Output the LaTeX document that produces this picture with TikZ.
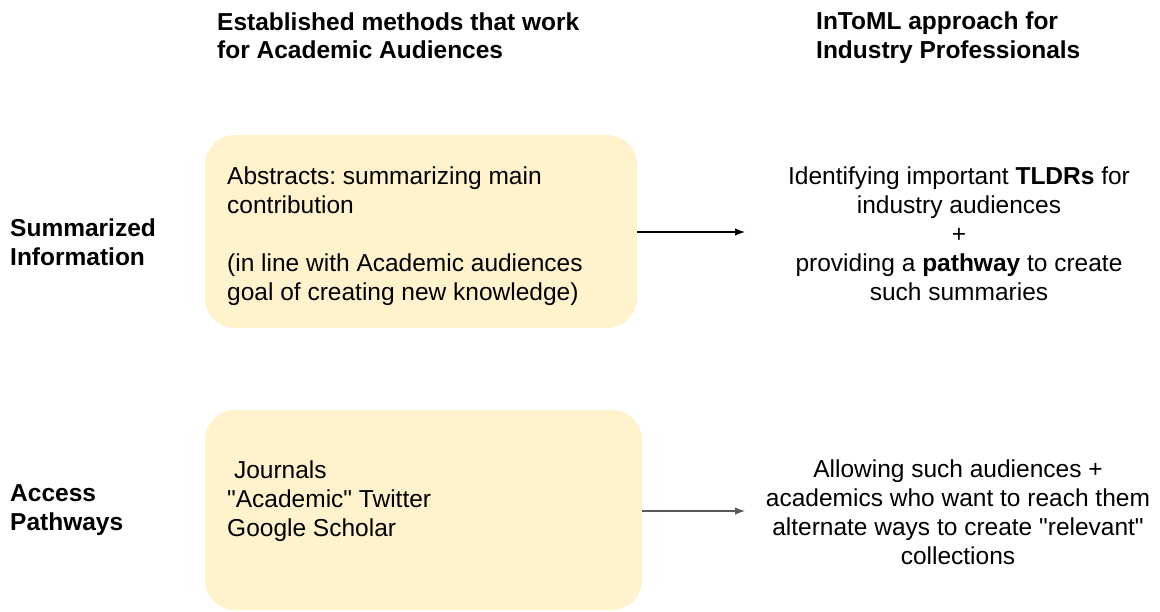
\documentclass[tikz,border=0pt]{standalone}
\usepackage{fontspec}
\setmainfont{Liberation Sans}
\newfontfamily\plainfont{Liberation Sans}
\newcommand{\dq}{{\plainfont"}}
\frenchspacing
\usetikzlibrary{arrows.meta}
\definecolor{boxfill}{HTML}{FFF2CC}
\definecolor{arrowgrey}{HTML}{595959}
\tikzset{
  txt/.style={inner sep=0pt, text=black},
  hdr/.style={txt, font=\fontsize{24.5}{28.5}\selectfont\bfseries, align=left, anchor=west},
  rowlbl/.style={txt, font=\fontsize{24.5}{29}\selectfont\bfseries, align=left, anchor=west},
  boxtxt/.style={txt, font=\fontsize{24.5}{29}\selectfont, align=left, anchor=west},
  righttxt/.style={txt, font=\fontsize{24.5}{29}\selectfont, align=center},
  panel/.style={fill=boxfill, draw=none, rounded corners=30pt},
  conn/.style={line width=1.3pt, -{Latex[length=10pt,width=7.5pt]}},
}
\begin{document}
\frenchspacing
\begin{tikzpicture}[x=1pt,y=-1pt]
\useasboundingbox (0,0) rectangle (1160,611);
% headings
\node[hdr] (h1) at (217,35.5) {Established methods that work\\for Academic Audiences};
\node[hdr] (h2) at (816,37.5) {InToML approach for\\Industry Professionals};
% row labels
\node[rowlbl] (l1) at (10,242.5) {Summarized\\Information};
\node[rowlbl] (l2) at (10,510) {Access\\Pathways};
% boxes
\draw[panel] (205,135) rectangle (637,328);
\draw[panel] (205,410) rectangle (642,610);
\coordinate (b1) at (637,232);
\coordinate (b2) at (642,511);
\coordinate (e1) at (745,232);
\coordinate (e2) at (745,511);
\node[boxtxt] (t1) at (227,236) {Abstracts: summarizing main\\contribution\\[29pt](in line with Academic audiences\\goal of creating new knowledge)};
\node[boxtxt] (t2) at (227,501.5) {\ Journals\\\dq Academic\dq\ Twitter\\Google Scholar};
% right texts
\node[righttxt] (r1) at (959,234) {Identifying important \textbf{TLDRs} for\\industry audiences\\+\\providing a \textbf{pathway} to create\\such summaries};
\node[righttxt] (r2) at (958,512.5) {Allowing such audiences +\\academics who want to reach them\\alternate ways to create \dq relevant\dq\\collections};
% connectors
\draw[conn, black] (b1) -- (e1);
\draw[conn, arrowgrey] (b2) -- (e2);
\end{tikzpicture}
\end{document}
